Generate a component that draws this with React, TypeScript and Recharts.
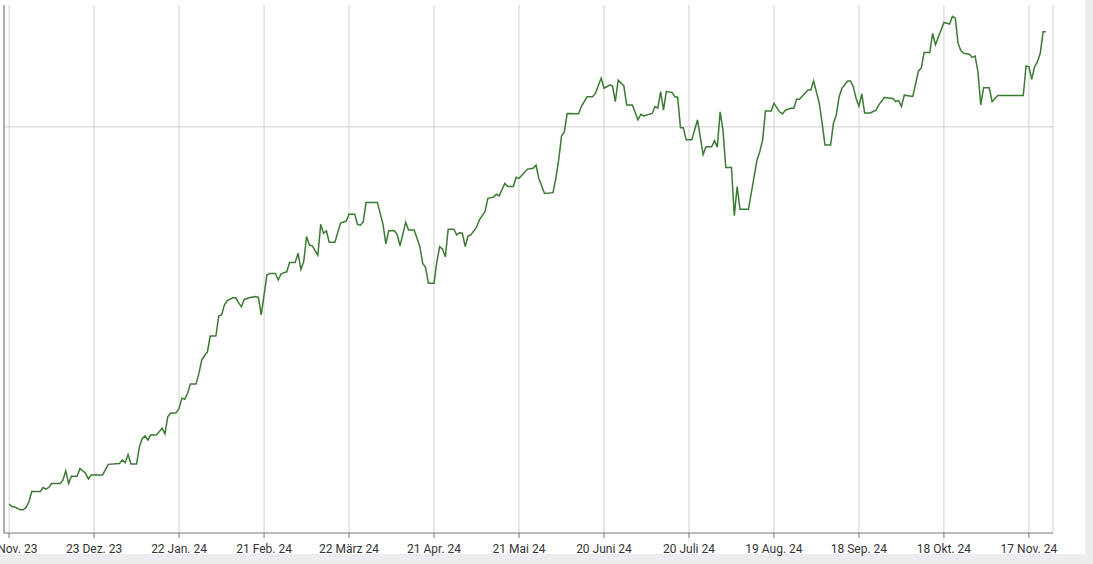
import React from 'react';
import { CartesianGrid, Line, LineChart, ReferenceLine, XAxis, YAxis } from 'recharts';

// days since 23 Nov 2023
const days = [
  0, 1, 2, 4, 5, 6, 7, 8, 11, 12, 13, 14, 15, 18, 19, 20, 21, 22, 24, 25, 27, 28, 29, 33, 35, 39, 40, 41, 42, 43,
  45, 46, 47, 48, 49, 50, 52, 54, 55, 56, 57, 59, 60, 61, 62, 63, 64, 66, 67, 68, 69, 70, 71, 73, 74, 75, 76, 77, 79, 80,
  81, 82, 83, 85, 87, 88, 89, 91, 92, 94, 95, 96, 97, 98, 99, 101, 102, 103, 104, 105, 106, 107, 109, 110, 111, 112, 113, 115, 117, 119,
  120, 122, 123, 124, 125, 126, 130, 132, 133, 134, 136, 137, 138, 140, 141, 143, 145, 146, 147, 148, 150, 151, 152, 153, 154, 155, 157, 158, 159, 160,
  161, 162, 163, 165, 166, 168, 169, 171, 172, 173, 175, 176, 178, 179, 180, 181, 183, 185, 186, 187, 189, 192, 193, 194, 195, 196, 197, 201, 202, 204,
  206, 207, 209, 210, 212, 213, 214, 215, 217, 218, 220, 222, 223, 224, 227, 228, 229, 230, 231, 232, 234, 235, 236, 237, 238, 239, 241, 243, 245, 246,
  248, 249, 250, 251, 252, 253, 255, 256, 257, 258, 261, 264, 265, 266, 267, 269, 270, 272, 273, 274, 276, 277, 278, 279, 282, 283, 284, 286, 287, 288,
  290, 291, 292, 293, 294, 296, 297, 298, 299, 300, 301, 302, 304, 306, 307, 309, 312, 313, 314, 315, 316, 319, 321, 322, 323, 325, 326, 327, 330, 332,
  333, 334, 335, 336, 337, 339, 340, 341, 342, 343, 344, 346, 347, 349, 358, 359, 360, 361, 362, 363, 364, 365, 366,
];

const values = [
  7.1, 6.5, 6.4, 5.7, 5.7, 6.3, 7.7, 10.2, 10.2, 11.2, 10.8, 11.2, 12.2, 12.2, 13.0, 15.3, 12.2, 14.0, 14.0, 15.9, 14.7, 13.3, 14.3, 14.3, 16.9, 17.1, 18.0, 17.3, 19.3, 17.0,
  17.0, 21.2, 23.3, 23.9, 22.9, 24.1, 24.1, 25.8, 24.4, 28.6, 29.5, 29.6, 30.7, 33.2, 32.9, 34.4, 36.7, 36.7, 39.3, 42.6, 43.7, 44.6, 48.5, 48.5, 53.4, 53.7, 56.1, 57.2, 57.9, 57.9,
  56.7, 55.7, 57.5, 58.0, 58.2, 58.0, 53.7, 63.5, 63.9, 63.9, 62.3, 63.8, 64.1, 64.3, 66.6, 66.6, 68.9, 64.9, 66.8, 73.0, 70.9, 70.7, 68.4, 76.0, 73.8, 74.4, 71.6, 71.6, 76.3, 76.8,
  78.5, 78.5, 76.0, 75.8, 76.6, 81.4, 81.4, 76.0, 71.2, 74.4, 74.4, 73.5, 70.7, 76.5, 74.6, 74.6, 70.5, 66.4, 65.4, 61.5, 61.5, 66.8, 70.5, 69.9, 68.0, 74.8, 74.8, 73.4, 73.9, 73.8,
  70.5, 73.1, 73.4, 75.3, 77.1, 79.1, 82.4, 82.7, 83.4, 83.0, 86.1, 85.3, 85.3, 87.6, 87.3, 88.1, 89.6, 89.8, 90.6, 87.3, 83.6, 83.8, 87.3, 91.8, 97.7, 98.8, 103.3, 103.2, 105.0, 107.4,
  107.4, 108.3, 112.0, 109.5, 110.3, 110.1, 106.2, 111.5, 110.1, 105.4, 105.4, 101.7, 103.1, 102.7, 103.3, 105.0, 104.6, 108.7, 104.1, 108.7, 108.5, 107.4, 107.3, 99.8, 99.8, 96.8, 96.8, 101.7, 93.2, 95.1,
  95.1, 96.6, 95.0, 103.7, 99.2, 90.0, 90.0, 78.1, 85.3, 79.7, 79.7, 91.8, 93.9, 96.8, 103.9, 103.9, 105.8, 103.7, 103.2, 104.1, 104.6, 104.6, 106.8, 106.8, 109.1, 109.1, 111.3, 105.8, 100.9, 95.5,
  95.5, 100.9, 102.9, 107.4, 109.5, 111.3, 111.3, 109.9, 107.0, 105.1, 108.1, 103.4, 103.4, 104.1, 105.4, 107.2, 107.0, 106.2, 106.5, 105.0, 107.8, 107.5, 113.7, 114.5, 118.3, 118.3, 123.0, 120.2, 125.7, 125.3,
  127.2, 126.8, 120.5, 118.7, 118.1, 117.9, 117.1, 117.4, 113.6, 105.4, 109.6, 109.6, 106.2, 107.7, 107.7, 115.0, 114.8, 111.7, 114.8, 116.0, 118.1, 123.4, 123.4,
];

const xTicks = [0, 30, 60, 90, 120, 150, 180, 210, 240, 270, 300, 330, 360];
const xLabels = [
  '23 Nov. 23', '23 Dez. 23', '22 Jan. 24', '21 Feb. 24', '22 März 24', '21 Apr. 24', '21 Mai 24',
  '20 Juni 24', '20 Juli 24', '19 Aug. 24', '18 Sep. 24', '18 Okt. 24', '17 Nov. 24',
];
const yTicks = [0, 10, 20, 30, 40, 50, 60, 70, 80, 90, 100, 110, 120, 130];

const data = days.map((day, i) => ({ day, value: values[i] }));

const App = () => {
  return (
    <div style={{ position: 'fixed', left: 0, top: 0, width: 1093, height: 564, background: '#ececf1' }}>
      <div style={{ position: 'absolute', left: 0, top: 0, width: 1085, height: 554, background: '#fff' }} />
      <div style={{ position: 'absolute', left: 0, top: 0 }}>
        <LineChart width={1085} height={564} data={data} margin={{ top: 5, right: 32, bottom: 10, left: 0 }}>
          <CartesianGrid horizontal={false} stroke="#d2d2d2" />
          <XAxis
            dataKey="day"
            type="number"
            domain={[-1.8, 368.5]}
            ticks={xTicks}
            interval={0}
            tickFormatter={(v) => xLabels[xTicks.indexOf(v)] ?? ''}
            tickSize={5}
            tickMargin={6}
            height={21}
            stroke="#777"
            tick={{ fill: '#333', fontSize: 12, fontFamily: 'Roboto' }}
            allowDataOverflow
          />
          <YAxis domain={[0, 130]} ticks={yTicks} tick={false} tickSize={3} width={4} stroke="#777" />
          <ReferenceLine y={100} stroke="#cfcfcf" />
          <Line
            type="linear"
            dataKey="value"
            stroke="#3b7a32"
            strokeWidth={1.5}
            dot={false}
            isAnimationActive={false}
          />
        </LineChart>
      </div>
    </div>
  );
};

export default App;
